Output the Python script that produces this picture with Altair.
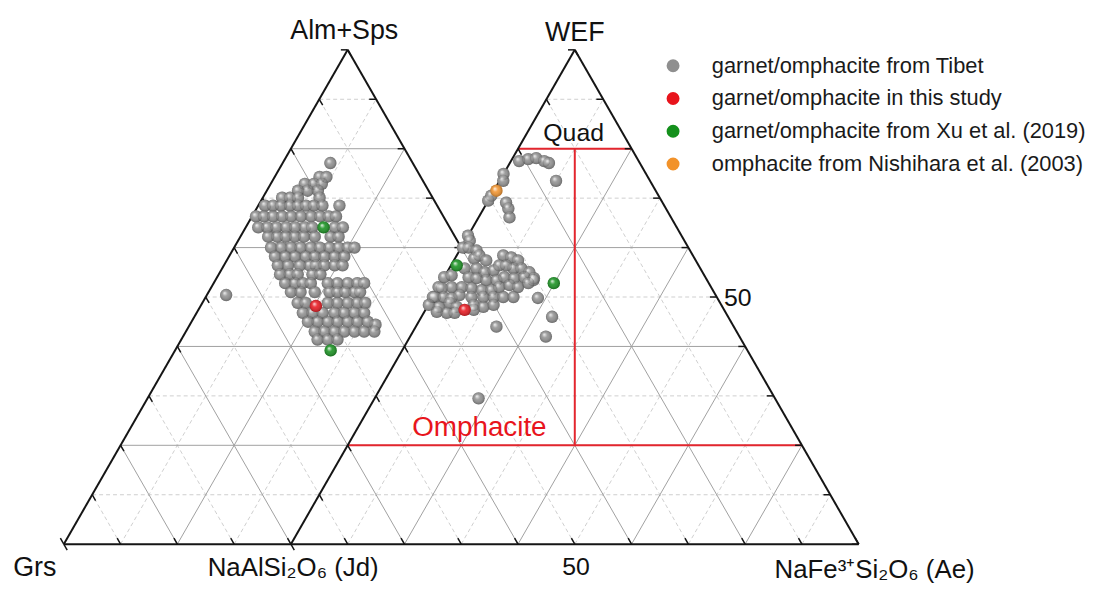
import altair as alt
import pandas as pd

# ---------------- data (ternary compositions, %) ----------------
# garnet: (Alm+Sps, Prp)  -- Grs = 100 - both
garnet_tibet = [
    (77.1, 8.4),
    (74.3, 7.9), (74.3, 9.1),
    (72.9, 6.0), (72.9, 7.6), (72.9, 9.0),
    (71.5, 5.5), (71.5, 7.2), (71.5, 9.0),
    (70.1, 3.4), (70.1, 4.8), (70.1, 6.2), (70.1, 10.0),
    (68.5, 1.2), (68.5, 2.6), (68.5, 4.0), (68.5, 5.6), (68.5, 7.0), (68.5, 8.4), (68.5, 9.8), (68.5, 11.3), (68.5, 14.3),
    (66.3, 0.7), (66.3, 2.1), (66.3, 3.7), (66.3, 5.3), (66.3, 6.9), (66.3, 8.6), (66.3, 10.4), (66.3, 12.0), (66.3, 13.5), (66.3, 14.8),
    (64.1, 2.2), (64.1, 3.8), (64.1, 5.4), (64.1, 7.1), (64.1, 8.7), (64.1, 10.4), (64.1, 11.7), (64.1, 15.7), (64.1, 17.1),
    (62.2, 4.9), (62.2, 6.5), (62.2, 8.0), (62.2, 9.6), (62.2, 11.2), (62.2, 13.1), (62.2, 15.9), (62.2, 17.3),
    (60.0, 6.5), (60.0, 8.3), (60.0, 10.0), (60.0, 11.7), (60.0, 13.5), (60.0, 15.1), (60.0, 16.8), (60.0, 18.4), (60.0, 20.0), (60.0, 21.2),
    (58.2, 8.1), (58.2, 9.9), (58.2, 11.6), (58.2, 13.5), (58.2, 15.1), (58.2, 16.8), (58.2, 18.6), (58.2, 20.3),
    (56.4, 9.5), (56.4, 11.3), (56.4, 13.4), (56.4, 15.1), (56.4, 16.2), (56.4, 17.7), (56.4, 19.5), (56.4, 20.9),
    (54.6, 10.8), (54.6, 12.5), (54.6, 13.9), (54.6, 16.5), (54.6, 17.9),
    (52.8, 12.6), (52.8, 14.3), (52.8, 15.7), (52.8, 17.1), (52.8, 20.1), (52.8, 21.8), (52.8, 23.6), (52.8, 25.3), (52.8, 26.5),
    (51.0, 14.5), (51.0, 16.2), (51.0, 18.7), (51.0, 21.3), (51.0, 22.7), (51.0, 24.1), (51.0, 25.7), (51.0, 26.7),
    (48.8, 16.8), (48.8, 18.2), (48.8, 22.1), (48.8, 23.8), (48.8, 25.6), (48.8, 27.3), (48.8, 28.7),
    (46.8, 18.7), (46.8, 20.4), (46.8, 22.2), (46.8, 24.3), (46.8, 26.0), (46.8, 27.8), (46.8, 29.5), (44.4, 32.7),
    (45.0, 20.5), (45.0, 22.2), (45.0, 24.0), (45.0, 25.7), (45.0, 27.5), (45.0, 29.2), (45.0, 31.0),
    (43.0, 22.7), (43.0, 24.4), (43.0, 26.2), (43.0, 27.9), (43.0, 29.7), (43.0, 31.4), (43.0, 33.2),
    (41.4, 24.0), (41.4, 25.8), (41.4, 27.5),
    (50.4, 3.4),
]
garnet_study = [(48.2, 20.3)]
garnet_xu = [(64.1, 13.7), (39.2, 27.4)]

# omphacite: (WEF, Ae)  -- Jd = 100 - both
omph_tibet = [
    (77.5, 1.45), (77.9, 2.85), (78.1, 4.15), (77.5, 5.85), (77.1, 6.9), (73.5, 9.95),
    (74.9, 0.0), (73.5, 0.65), (69.5, 0.0), (70.5, 0.05), (69.1, 3.35), (67.9, 4.35), (66.1, 5.45),
    (62.4, 0.0), (61.4, 0.8), (60.0, 0.3), (60.0, 1.3), (59.4, 3.0), (57.8, 3.4), (58.4, 4.0), (57.4, 5.7),
    (58.4, 8.2), (58.0, 9.8), (57.4, 11.3), (55.8, 11.3),
    (55.8, 2.7), (55.8, 4.8), (55.0, 6.6), (55.4, 8.0), (56.4, 8.5), (56.4, 9.7), (55.8, 12.7), (55.0, 14.5), (53.8, 15.9),
    (54.0, 0.0), (54.4, 1.1), (54.0, 4.3), (53.8, 5.8), (53.4, 7.7), (53.4, 9.5), (54.0, 10.6), (53.8, 12.4), (54.0, 14.1), (53.4, 16.0),
    (52.0, 0.0), (51.8, 0.7), (52.0, 2.3), (52.0, 4.1), (51.8, 5.9), (51.4, 7.9), (51.4, 9.6), (52.0, 10.7), (52.4, 12.3), (52.0, 14.0), (52.8, 15.4),
    (50.0, 0.0), (50.0, 0.35), (50.0, 1.9), (49.8, 3.4), (50.4, 4.5), (50.0, 6.8), (50.0, 8.9), (50.0, 10.7), (50.0, 12.4), (50.0, 14.2),
    (48.4, 0.1), (48.0, 2.05), (48.8, 3.55), (48.0, 5.2), (48.4, 8.0), (48.0, 9.9), (48.4, 11.5),
    (47.0, 2.2), (46.8, 4.05), (46.8, 5.45), (47.4, 8.5),
    (49.8, 18.6), (46.0, 23.0), (44.0, 14.2), (42.0, 23.9), (29.5, 18.3),
]
omph_study = [(47.4, 6.9)]
omph_xu = [(56.4, 1.0), (52.8, 19.9)]
omph_nishihara = [(71.5, 0.45)]

groups = [
    "garnet/omphacite from Tibet",
    "garnet/omphacite in this study",
    "garnet/omphacite from Xu et al. (2019)",
    "omphacite from Nishihara et al. (2003)",
]
group_colors = ["#8f8f8f", "#e8141c", "#14901c", "#f2922a"]

# Morimoto (1988) classification boundaries (WEF %)
wef_limits = [20, 80]

# ---------------- geometry ----------------
# right triangle: Jd (0,0), Ae (100,0), WEF (50,100)
# left triangle shifted by -40: Grs (-40,0), Alm+Sps (10,100)
SHIFT = -40


def garnet_xy(alm, prp):
    return prp + SHIFT + alm / 2, alm


def omph_xy(wef, ae):
    return ae + wef / 2, wef


rows = []
for g, pts, fn in [
    (groups[0], garnet_tibet, garnet_xy), (groups[0], omph_tibet, omph_xy),
    (groups[1], garnet_study, garnet_xy), (groups[1], omph_study, omph_xy),
    (groups[2], garnet_xu, garnet_xy), (groups[2], omph_xu, omph_xy),
    (groups[3], omph_nishihara, omph_xy),
]:
    for a, b in pts:
        x, y = fn(a, b)
        rows.append({"x": x, "y": y, "group": g})
pts_df = pd.DataFrame(rows)

solid, dashed = [], []


def add(seg, k):
    (solid if k % 20 == 0 else dashed).append(dict(zip(["x", "y", "x2", "y2"], seg)))


for k in range(10, 100, 10):
    if k <= 60:
        add((SHIFT + k / 2, k, 100 - k / 2, k), k)
    else:
        add((SHIFT + k / 2, k, 100 + SHIFT - k / 2, k), k)
        add((k / 2, k, 100 - k / 2, k), k)
for c in range(-30, 100, 10):
    if c == 0:
        continue
    top = 60 - c if c < 0 else 100 - c
    add((c, 0, c + top / 2, top), c)
for d in range(-30, 100, 10):
    top = d + 40 if d <= 60 else d
    if d == 60:
        top = 60
    add((d, 0, d - top / 2, top), d)

edges = [
    (SHIFT, 0, 100, 0),
    (SHIFT, 0, SHIFT + 50, 100),
    (30, 60, SHIFT + 50, 100),
    (0, 0, 50, 100),
    (100, 0, 50, 100),
]
edges_df = pd.DataFrame([dict(zip(["x", "y", "x2", "y2"], e)) for e in edges])

ticks = []
for v in range(0, 101, 10):
    for x0 in (SHIFT + v / 2, v / 2):
        ticks.append((x0, v, x0 + 0.6, v - 1.2))
    ticks.append((100 - v / 2, v, 100 - v / 2 - 1.2, v))
    if v >= 60:
        ticks.append((60 - v / 2, v, 60 - v / 2 - 1.2, v))
for X in range(SHIFT, 101, 10):
    ticks.append((X, 0, X - 0.6, 1.2))
ticks_df = pd.DataFrame([dict(zip(["x", "y", "x2", "y2"], t)) for t in ticks])

red = [
    (wef_limits[0] / 2, wef_limits[0], 100 - wef_limits[0] / 2, wef_limits[0]),
    (50, wef_limits[0], 50, wef_limits[1]),
    (wef_limits[1] / 2, wef_limits[1], 100 - wef_limits[1] / 2, wef_limits[1]),
]
red_df = pd.DataFrame([dict(zip(["x", "y", "x2", "y2"], r)) for r in red])

labels_df = pd.DataFrame([
    {"text": "Alm+Sps", "x": 9.4, "y": 102.2, "size": 27, "color": "#111111"},
    {"text": "WEF", "x": 50.0, "y": 101.8, "size": 27, "color": "#111111"},
    {"text": "Quad", "x": 49.8, "y": 81.6, "size": 25, "color": "#111111"},
    {"text": "Grs", "x": -45.1, "y": -6.4, "size": 27, "color": "#111111"},
    {"text": "NaAlSi₂O₆ (Jd)", "x": 0.4, "y": -6.4, "size": 26, "color": "#111111"},
    {"text": "50", "x": 50.2, "y": -6.2, "size": 25, "color": "#111111"},
    {"text": "NaFe³⁺Si₂O₆ (Ae)", "x": 102.8, "y": -6.8, "size": 26, "color": "#111111"},
    {"text": "50", "x": 78.7, "y": 48.2, "size": 25, "color": "#111111"},
    {"text": "Omphacite", "x": 33.2, "y": 21.9, "size": 28, "color": "#e8141c"},
])

# ---------------- chart ----------------
W, H = 1085, 581
X0_PX, Y0_PX, UX, UY = 285, 538, 5.72, 4.98
xs = alt.Scale(domain=[-X0_PX / UX, (W - X0_PX) / UX], nice=False, zero=False)
ys = alt.Scale(domain=[(Y0_PX - H) / UY, Y0_PX / UY], nice=False, zero=False)
X = alt.X("x:Q", scale=xs, axis=None)
Y = alt.Y("y:Q", scale=ys, axis=None)


def segs(df, **kw):
    return alt.Chart(df).mark_rule(**kw).encode(x=X, y=Y, x2="x2:Q", y2="y2:Q")


layers = [
    segs(pd.DataFrame(dashed), color="#cfcfcf", strokeWidth=1, strokeDash=[4, 3]),
    segs(pd.DataFrame(solid), color="#a0a0a0", strokeWidth=1),
    segs(red_df, color="#e3262e", strokeWidth=2),
    segs(edges_df, color="#151515", strokeWidth=2),
    segs(ticks_df, color="#151515", strokeWidth=1.5),
]

hl = {
    "gradient": "radial", "x1": 0.36, "y1": 0.32, "r1": 0.0,
    "x2": 0.5, "y2": 0.5, "r2": 0.55,
    "stops": [
        {"offset": 0.0, "color": "rgba(255,255,255,0.9)"},
        {"offset": 0.4, "color": "rgba(255,255,255,0.12)"},
        {"offset": 1.0, "color": "rgba(0,0,0,0.35)"},
    ],
}

color_scale = alt.Scale(domain=groups, range=group_colors)
legend = alt.Legend(
    title=None, orient="none", legendX=659, legendY=45,
    symbolType="circle", symbolSize=170, symbolStrokeWidth=0,
    labelFont="Liberation Sans", labelFontSize=22, labelFontWeight="normal",
    labelColor="#1a1a1a",
    labelOffset=28, rowPadding=11, padding=0, labelLimit=600,
)

PT = 155
for i, g in enumerate(groups):
    base = alt.Chart(pts_df).transform_filter(alt.datum.group == g)
    layers.append(
        base.mark_circle(size=PT, opacity=1).encode(
            x=X, y=Y,
            color=alt.Color("group:N", scale=color_scale, sort=groups,
                            legend=legend if i == 0 else None),
        )
    )
    layers.append(base.mark_circle(size=PT, opacity=1, color=hl).encode(x=X, y=Y))

layers.append(
    alt.Chart(labels_df).mark_text(font="Liberation Sans", baseline="alphabetic", align="center").encode(
        x=X, y=Y, text="text:N",
        size=alt.Size("size:Q", scale=None),
        color=alt.Color("color:N", scale=None),
    )
)

chart = (
    alt.layer(*layers)
    .properties(width=W, height=H, padding=0, autosize=alt.AutoSizeParams(type="none"))
    .configure_view(stroke=None)
)

chart.save("out.html", embed_options={"renderer": "svg", "actions": False})
